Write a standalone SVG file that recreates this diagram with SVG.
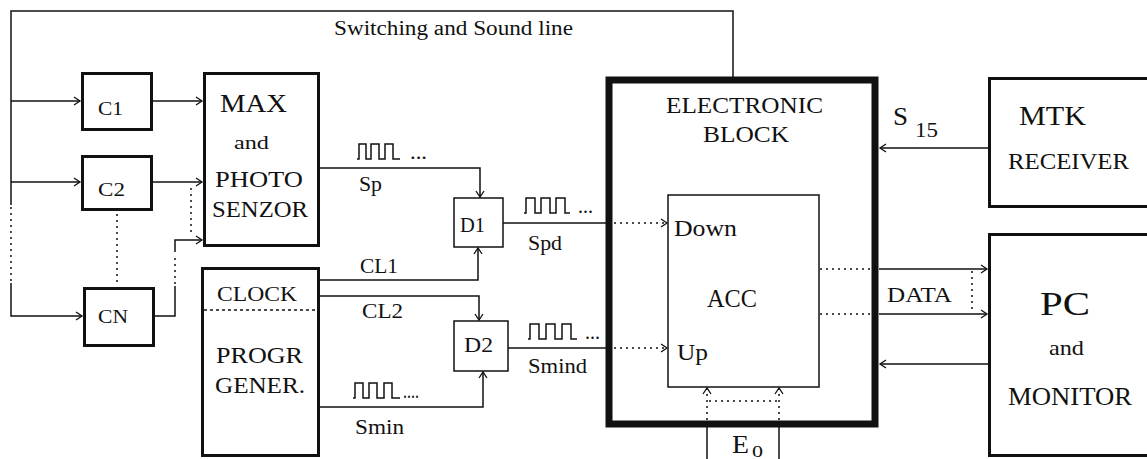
<svg xmlns="http://www.w3.org/2000/svg" width="1147" height="459" viewBox="0 0 1147 459">
<style>
text{font-family:"Liberation Serif","Times New Roman",serif;fill:#111;}
.box{fill:none;stroke:#111;stroke-width:3;}
.thin{fill:none;stroke:#111;stroke-width:1.5;}
.w{fill:none;stroke:#111;stroke-width:1.5;}
.dot{fill:none;stroke:#111;stroke-width:1.5;stroke-dasharray:2 4;}
.dash{fill:none;stroke:#111;stroke-width:1.5;stroke-dasharray:3 3;}
.wave{fill:none;stroke:#111;stroke-width:1.5;}
</style>
<defs>
<marker id="a" markerUnits="userSpaceOnUse" markerWidth="10" markerHeight="10" refX="0" refY="0" viewBox="-8 -5 10 10" orient="auto">
<path d="M-6,-4 L0,0 L-6,4" fill="none" stroke="#111" stroke-width="1.3"/>
</marker>
</defs>
<rect width="1147" height="459" fill="#fff"/>

<g id="connectors">
<path class="w" d="M11,205 V11 H733 V77"/>
<path class="dot" d="M11,207 V282"/>
<path class="w" d="M11,283 V316 H82" marker-end="url(#a)"/>
<path class="w" d="M11,101 H80" marker-end="url(#a)"/>
<path class="w" d="M11,182 H80" marker-end="url(#a)"/>
<path class="w" d="M153,101 H202" marker-end="url(#a)"/>
<path class="w" d="M153,182 H202" marker-end="url(#a)"/>
<path class="dot" d="M191,188 V236"/>
<path class="dot" d="M117,214 V285"/>
<path class="w" d="M155,316 H175 V286"/>
<path class="dot" d="M175,284 V254"/>
<path class="w" d="M175,252 V240 H202" marker-end="url(#a)"/>
<path class="w" d="M320,168 H480 V197" marker-end="url(#a)"/>
<path class="w" d="M320,280 H478 V248" marker-end="url(#a)"/>
<path class="w" d="M320,296 H479 V320" marker-end="url(#a)"/>
<path class="w" d="M320,407 H483 V372" marker-end="url(#a)"/>
<path class="w" d="M503,223 H609"/>
<path class="dot" d="M614,223 H667" marker-end="url(#a)"/>
<path class="w" d="M508,348 H609"/>
<path class="dot" d="M614,348 H667" marker-end="url(#a)"/>
<path class="dot" d="M820,269 H872"/>
<path class="dot" d="M820,314 H872"/>
<path class="w" d="M879,269 H987" marker-end="url(#a)"/>
<path class="w" d="M879,314 H987" marker-end="url(#a)"/>
<path class="dot" d="M972,271 V313"/>
<path class="w" d="M988,364 H880" marker-end="url(#a)"/>
<path class="w" d="M988,148 H880" marker-end="url(#a)"/>
<path class="w" d="M707,459 V425"/>
<path class="w" d="M779,459 V425"/>
<path class="dot" d="M707,420 V388" marker-end="url(#a)"/>
<path class="dot" d="M779,420 V388" marker-end="url(#a)"/>
<path class="dot" d="M709,401 H779"/>
<text x="334" y="35" font-size="20" textLength="239" lengthAdjust="spacingAndGlyphs">Switching and Sound line</text>
<path class="wave" d="M357,159 H359 V144 H366 V159 H371 V144 H379 V159 H385 V144 H393 V159 H400"/>
<text x="410" y="159" font-size="20" textLength="17" lengthAdjust="spacingAndGlyphs">...</text>
<text x="359" y="191" font-size="20" textLength="23" lengthAdjust="spacingAndGlyphs">Sp</text>
<text x="360" y="273" font-size="21" textLength="38" lengthAdjust="spacingAndGlyphs">CL1</text>
<text x="362" y="318" font-size="21" textLength="41" lengthAdjust="spacingAndGlyphs">CL2</text>
<path class="wave" d="M353,398 H355 V383 H363 V398 H369 V383 H377 V398 H384 V383 H392 V398 H400"/>
<text x="403" y="398" font-size="20" textLength="16" lengthAdjust="spacingAndGlyphs">....</text>
<text x="355" y="434" font-size="21" textLength="49" lengthAdjust="spacingAndGlyphs">Smin</text>
<path class="wave" d="M524,213 H526 V198 H535 V213 H541 V198 H550 V213 H556 V198 H565 V213 H570"/>
<text x="578" y="213" font-size="20" textLength="15" lengthAdjust="spacingAndGlyphs">...</text>
<text x="528" y="250" font-size="20" textLength="34" lengthAdjust="spacingAndGlyphs">Spd</text>
<path class="wave" d="M528,339 H530 V324 H539 V339 H546 V324 H555 V339 H562 V324 H571 V339 H577"/>
<text x="585" y="339" font-size="20" textLength="15" lengthAdjust="spacingAndGlyphs">...</text>
<text x="528" y="373" font-size="21" textLength="59" lengthAdjust="spacingAndGlyphs">Smind</text>
<text x="893" y="125" font-size="26" textLength="15" lengthAdjust="spacingAndGlyphs">S</text>
<text x="915" y="137" font-size="21" textLength="23" lengthAdjust="spacingAndGlyphs">15</text>
<text x="887" y="302" font-size="22" textLength="65" lengthAdjust="spacingAndGlyphs">DATA</text>
<text x="732" y="453" font-size="26" textLength="17" lengthAdjust="spacingAndGlyphs">E</text>
<text x="752" y="457" font-size="17" textLength="11" lengthAdjust="spacingAndGlyphs">0</text>
</g>

<g id="c1">
<rect class="box" x="82.5" y="73.5" width="69" height="56"/>
<text x="98" y="115" font-size="19" textLength="25" lengthAdjust="spacingAndGlyphs">C1</text>
</g>
<g id="c2">
<rect class="box" x="82.5" y="156.5" width="69" height="53"/>
<text x="98" y="196" font-size="19" textLength="27" lengthAdjust="spacingAndGlyphs">C2</text>
</g>
<g id="cn">
<rect class="box" x="84.5" y="288.5" width="69" height="57"/>
<text x="98" y="323" font-size="19" textLength="30" lengthAdjust="spacingAndGlyphs">CN</text>
</g>
<g id="max">
<rect class="box" x="204.5" y="73.5" width="114" height="172"/>
<text x="220" y="112" font-size="25" textLength="67" lengthAdjust="spacingAndGlyphs">MAX</text>
<text x="234" y="149" font-size="18" textLength="35" lengthAdjust="spacingAndGlyphs">and</text>
<text x="215" y="187" font-size="24" textLength="88" lengthAdjust="spacingAndGlyphs">PHOTO</text>
<text x="212" y="217" font-size="24" textLength="96" lengthAdjust="spacingAndGlyphs">SENZOR</text>
</g>
<g id="progr">
<rect class="box" x="202.5" y="268.5" width="116" height="187"/>
<path class="dash" d="M204,310 H318"/>
<text x="217" y="301" font-size="22" textLength="80" lengthAdjust="spacingAndGlyphs">CLOCK</text>
<text x="216" y="363" font-size="24" textLength="87" lengthAdjust="spacingAndGlyphs">PROGR</text>
<text x="215" y="393" font-size="24" textLength="90" lengthAdjust="spacingAndGlyphs">GENER.</text>
</g>
<g id="d1">
<rect class="thin" x="454" y="198" width="49" height="49"/>
<text x="460" y="232" font-size="22" textLength="25" lengthAdjust="spacingAndGlyphs">D1</text>
</g>
<g id="d2">
<rect class="thin" x="454" y="321" width="54" height="50"/>
<text x="464" y="352" font-size="22" textLength="29" lengthAdjust="spacingAndGlyphs">D2</text>
</g>
<g id="electronic">
<rect fill="none" stroke="#111" stroke-width="7" x="609" y="80" width="266" height="344"/>
<text x="666" y="113" font-size="23" textLength="157" lengthAdjust="spacingAndGlyphs">ELECTRONIC</text>
<text x="703" y="142" font-size="23" textLength="86" lengthAdjust="spacingAndGlyphs">BLOCK</text>
</g>
<g id="acc">
<rect class="thin" x="668" y="195" width="151" height="192"/>
<text x="674" y="236" font-size="24" textLength="63" lengthAdjust="spacingAndGlyphs">Down</text>
<text x="707" y="307" font-size="25" textLength="50" lengthAdjust="spacingAndGlyphs">ACC</text>
<text x="677" y="360" font-size="24" textLength="31" lengthAdjust="spacingAndGlyphs">Up</text>
</g>
<g id="mtk">
<rect class="box" x="989.5" y="78.5" width="170" height="128"/>
<text x="1019" y="125" font-size="27" textLength="67" lengthAdjust="spacingAndGlyphs">MTK</text>
<text x="1008" y="169" font-size="24" textLength="121" lengthAdjust="spacingAndGlyphs">RECEIVER</text>
</g>
<g id="pc">
<rect class="box" x="989.5" y="234.5" width="170" height="221"/>
<text x="1040" y="315" font-size="34" textLength="50" lengthAdjust="spacingAndGlyphs">PC</text>
<text x="1049" y="355" font-size="21" textLength="35" lengthAdjust="spacingAndGlyphs">and</text>
<text x="1008" y="405" font-size="25" textLength="124" lengthAdjust="spacingAndGlyphs">MONITOR</text>
</g>
</svg>
